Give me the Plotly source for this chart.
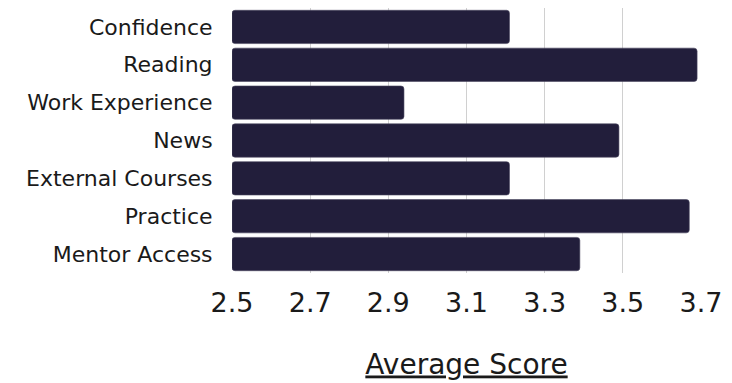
import plotly.graph_objects as go

# Average score per learning factor
factors = ["Confidence", "Reading", "Work Experience", "News",
           "External Courses", "Practice", "Mentor Access"]
scores = [3.21, 3.69, 2.94, 3.49, 3.21, 3.67, 3.39]

axis_start = 2.5
tick_vals = [2.5, 2.7, 2.9, 3.1, 3.3, 3.5, 3.7]
tick_text = ["2.5", "2.7", "2.9", "3.1", "3.3", "3.5", "3.7"]

bar_color = "#221E3B"
text_color = "#1a1a1a"
font_family = "'DejaVu Sans', Lato, sans-serif"

fig = go.Figure(
    go.Bar(
        x=[s - axis_start for s in scores],
        y=factors,
        base=axis_start,
        orientation="h",
        marker=dict(color=bar_color, line=dict(width=0.6, color="#4a4660")),
        customdata=scores,
        hovertemplate="%{y}: %{customdata}<extra></extra>",
    )
)

fig.update_layout(
    width=732,
    height=383,
    margin=dict(l=232, r=31, t=8, b=110),
    paper_bgcolor="white",
    plot_bgcolor="white",
    bargap=0.12,
    barcornerradius=3,
    showlegend=False,
    font=dict(family=font_family, size=22, color=text_color),
    xaxis=dict(
        range=[2.5, 3.7],
        tickvals=tick_vals,
        ticktext=tick_text,
        showgrid=True,
        gridcolor="#d0d0d0",
        gridwidth=1,
        zeroline=False,
        showline=False,
        ticks="outside",
        ticklen=6,
        tickcolor="rgba(0,0,0,0)",
        tickfont=dict(size=27, color=text_color),
        title=dict(text="<u>Average Score</u>",
                   font=dict(size=28, color=text_color),
                   standoff=36),
    ),
    yaxis=dict(
        autorange="reversed",
        showgrid=False,
        showline=False,
        ticks="outside",
        ticklen=14,
        tickcolor="rgba(0,0,0,0)",
        tickfont=dict(size=22, color=text_color),
    ),
)

fig.write_html("out.html")
